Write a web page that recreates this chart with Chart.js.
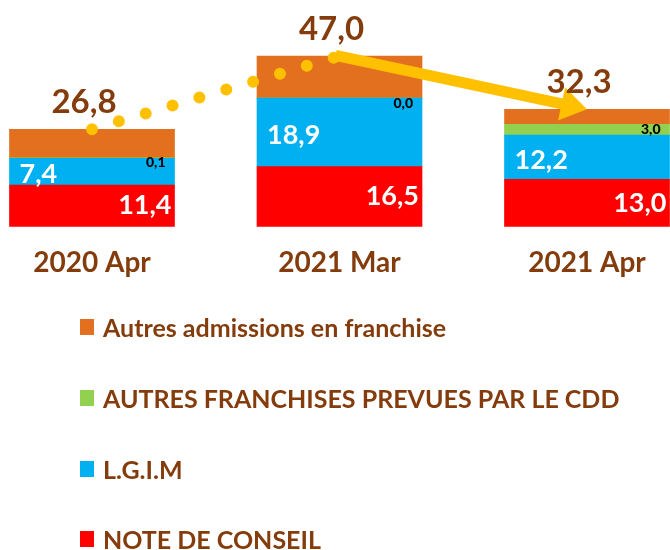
<!DOCTYPE html>
<html>
<head>
<meta charset="utf-8">
<script src="https://cdn.jsdelivr.net/npm/chart.js@4.4.1/dist/chart.umd.min.js"></script>
<style>
  body { margin: 0; background: #fff; }
  #wrap { position: relative; width: 670px; height: 550px; overflow: hidden; }
  #chartBox { position: absolute; left: 0; top: 0; width: 670px; height: 300px; }
  #legend { position: absolute; left: 80px; top: 292px; font-family: Lato, sans-serif; font-weight: bold; }
  .item { height: 70.7px; display: flex; align-items: center; font-size: 25px; color: #843C0C; }
  .box { width: 14px; height: 16px; margin-right: 9px; }
</style>
</head>
<body>
<div id="wrap">
  <div id="chartBox"><canvas id="chart"></canvas></div>
  <div id="legend"></div>
</div>
<script>
const periods = ['2020 Apr', '2021 Mar', '2021 Apr'];
const noteConseil = [11.4, 16.5, 13.0];
const lgim = [7.4, 18.9, 12.2];
const autresFranchises = [0.1, 0.0, 3.0];
const autresAdmissions = [7.9, 11.6, 4.1];
const totals = [26.8, 47.0, 32.3];

const brown = '#843C0C';
const gold = '#FFC000';

function fmt(v) {
    return v.toFixed(1).replace('.', ',');
}

// stacked bars bottom to top, legend shows them top to bottom
const barSets = [
    { label: 'NOTE DE CONSEIL', data: noteConseil, color: '#FF0000' },
    { label: 'L.G.I.M', data: lgim, color: '#00B0F0' },
    { label: 'AUTRES FRANCHISES PREVUES PAR LE CDD', data: autresFranchises, color: '#92D050' },
    { label: 'Autres admissions en franchise', data: autresAdmissions, color: '#E2701E' }
];

const datasets = barSets.map(s => ({
    type: 'bar',
    label: s.label,
    data: s.data,
    backgroundColor: s.color,
    barThickness: 165,
    borderWidth: 0,
    clip: false,
    order: 1
}));

datasets.push({
    type: 'line',
    label: 'total',
    data: totals,
    stack: 'total',
    borderColor: gold,
    borderWidth: 12,
    borderCapStyle: 'round',
    borderDash: [0, 28],
    pointRadius: 0,
    tension: 0,
    fill: false,
    clip: false,
    order: 0,
    segment: {
        // second segment is drawn as an arrow by the plugin
        borderColor: c => c.p0DataIndex === 1 ? 'rgba(0,0,0,0)' : undefined
    }
});

const labelPlugin = {
    id: 'labels',
    afterDatasetsDraw(chart) {
        const ctx = chart.ctx;
        const lineMeta = chart.getDatasetMeta(4);
        const pts = lineMeta.data;

        // arrow between the last two totals
        const a = pts[1], b = pts[2];
        const ang = Math.atan2(b.y - a.y, b.x - a.x);
        const headLen = 26, headW = 17;
        ctx.save();
        ctx.strokeStyle = gold;
        ctx.fillStyle = gold;
        ctx.lineWidth = 11;
        ctx.beginPath();
        ctx.moveTo(a.x - 4 * Math.cos(ang), a.y - 4 * Math.sin(ang));
        ctx.lineTo(b.x - (headLen - 4) * Math.cos(ang), b.y - (headLen - 4) * Math.sin(ang));
        ctx.stroke();
        ctx.translate(b.x, b.y);
        ctx.rotate(ang);
        ctx.beginPath();
        ctx.moveTo(0, 0);
        ctx.lineTo(-headLen, -headW);
        ctx.lineTo(-headLen, headW);
        ctx.closePath();
        ctx.fill();
        ctx.restore();

        ctx.save();
        ctx.textBaseline = 'middle';
        chart.getDatasetMeta(0).data.forEach((bar, i) => {
            ctx.font = 'bold 27px Lato';
            ctx.fillStyle = '#fff';
            ctx.textAlign = 'right';
            ctx.fillText(fmt(noteConseil[i]), bar.x + bar.width / 2 - 3, (bar.y + bar.base) / 2);
        });
        chart.getDatasetMeta(1).data.forEach((bar, i) => {
            ctx.font = 'bold 27px Lato';
            ctx.fillStyle = '#fff';
            ctx.textAlign = 'left';
            ctx.fillText(fmt(lgim[i]), bar.x - bar.width / 2 + 10, (bar.y + bar.base) / 2 + 3);
        });
        chart.getDatasetMeta(2).data.forEach((bar, i) => {
            ctx.font = '900 14px Lato';
            ctx.fillStyle = '#000';
            ctx.textAlign = 'right';
            const y = Math.max((bar.y + bar.base) / 2, bar.y + 5);
            ctx.fillText(fmt(autresFranchises[i]), bar.x + bar.width / 2 - 9, y);
        });
        pts.forEach((p, i) => {
            ctx.font = 'bold 33px Lato';
            ctx.fillStyle = brown;
            ctx.textAlign = 'center';
            ctx.fillText(fmt(totals[i]), p.x - 8, p.y - 27);
        });
        ctx.restore();
    }
};

new Chart(document.getElementById('chart'), {
    data: { labels: periods, datasets: datasets },
    options: {
        responsive: true,
        maintainAspectRatio: false,
        animation: false,
        events: [],
        layout: { padding: { left: 92, right: 83, top: 9, bottom: 0 } },
        plugins: {
            legend: { display: false },
            tooltip: { enabled: false }
        },
        scales: {
            x: {
                stacked: true,
                offset: false,
                grid: { display: false, drawTicks: false },
                border: { display: false },
                ticks: {
                    padding: 20,
                    color: brown,
                    font: { family: 'Lato', size: 28, weight: 'bold', lineHeight: 1.2 }
                }
            },
            y: {
                stacked: true,
                display: false,
                min: 0,
                max: 60
            }
        }
    },
    plugins: [labelPlugin]
});

// legend, top to bottom as in the stack
const legend = document.getElementById('legend');
barSets.slice().reverse().forEach(s => {
    const row = document.createElement('div');
    row.className = 'item';
    const box = document.createElement('span');
    box.className = 'box';
    box.style.background = s.color;
    row.appendChild(box);
    row.appendChild(document.createTextNode(s.label));
    legend.appendChild(row);
});
</script>
</body>
</html>
